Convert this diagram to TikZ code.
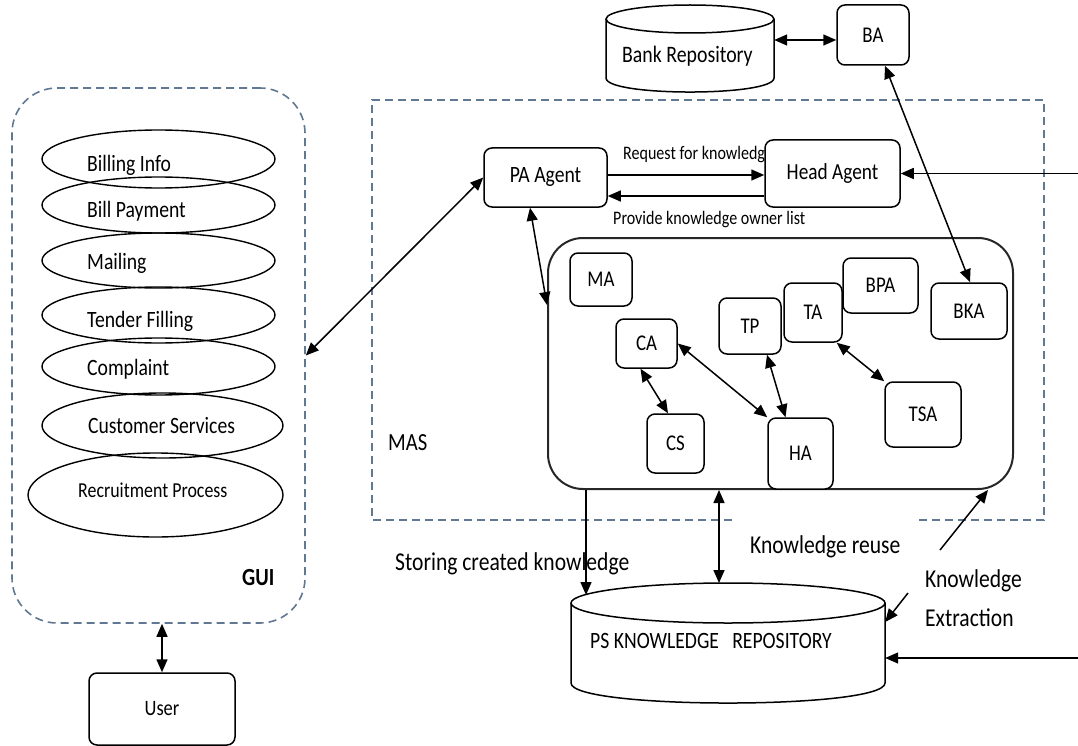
\documentclass[tikz,border=0pt]{standalone}
\usepackage{fontspec}
\setmainfont{Carlito}[FakeStretch=0.84]
\usetikzlibrary{arrows.meta,shapes.geometric}
\newcommand\fsz[1]{\fontsize{#1}{#1}\selectfont}
\definecolor{dashblue}{RGB}{96,120,146}

\begin{document}
\begin{tikzpicture}[x=1pt,y=-1pt,
  box/.style={draw, line width=1.5pt, rounded corners=8pt, fill=white, inner sep=0pt, font=\fsz{22.5}},
  usecase/.style={draw, ellipse, line width=1.4pt, inner sep=0pt},
  lbl/.style={anchor=base west, inner sep=0pt},
  cyl/.style={line width=1.5pt},
  arr/.style={-{Triangle[length=13pt,width=11pt]}, line width=1.5pt},
  dbl/.style={{Triangle[length=13pt,width=11pt]}-{Triangle[length=13pt,width=11pt]}, line width=1.5pt},
  region/.style={draw=dashblue, line width=1.6pt, dash pattern=on 8pt off 5pt},
]
\useasboundingbox (0,0) rectangle (1078,746);

% ---------- GUI side ----------
\node[region, rounded corners=45pt, minimum width=293pt, minimum height=535pt] (gui) at (158.5,355.5) {};

\node[usecase, minimum width=233pt, minimum height=58pt] (e1) at (158.5,159) {};
\node[usecase, minimum width=233pt, minimum height=56pt] (e2) at (158.5,205) {};
\node[usecase, minimum width=233pt, minimum height=55pt] (e3) at (158.5,260.5) {};
\node[usecase, minimum width=233pt, minimum height=56pt] (e4) at (158.5,315) {};
\node[usecase, minimum width=233pt, minimum height=57pt] (e5) at (158.5,366.5) {};
\node[usecase, minimum width=241pt, minimum height=65pt] (e6) at (162.5,425.5) {};
\node[usecase, minimum width=255pt, minimum height=84pt] (e7) at (155.5,495) {};

\node[lbl, font=\fsz{23.4}] (t1) at (87,171.7) {Billing Info};
\node[lbl, font=\fsz{23.4}] (t2) at (87,217) {Bill Payment};
\node[lbl, font=\fsz{23.4}] (t3) at (87,269) {Mailing};
\node[lbl, font=\fsz{23.4}] (t4) at (87,327) {Tender Filling};
\node[lbl, font=\fsz{23.4}] (t5) at (87,375) {Complaint};
\node[lbl, font=\fsz{23.4}] (t6) at (88,433) {Customer Services};
\node[lbl, font=\fsz{21.3}] (t7) at (78,497) {Recruitment Process};
\node[lbl, font=\fsz{24.6}\bfseries] (guilabel) at (242,585) {GUI};

\node[box, minimum width=146pt, minimum height=72pt, font=\fsz{22}] (user) at (162,709) {User};

% ---------- bank side ----------
\node[minimum width=168pt, minimum height=87pt, inner sep=0pt] (bank) at (690,48.5) {};
\draw[cyl] (690,19) ellipse [x radius=84pt, y radius=14pt];
\draw[cyl] (606,19) -- (606,78) .. controls (606,96.7) and (774,96.7) .. (774,78) -- (774,19);
\node[lbl, font=\fsz{23.6}] (banklabel) at (622,63) {Bank Repository};
\node[box, minimum width=72pt, minimum height=60pt] (ba) at (873,35) {BA};

% ---------- multi-agent system ----------
\draw[region] (732,520) -- (372,520) -- (372,100) -- (1044,100) -- (1044,520) -- (917,520);
\node[lbl, font=\fsz{24.6}] (mas) at (388,450) {MAS};

\node[draw=black!85, line width=2pt, rounded corners=35pt, minimum width=465pt, minimum height=251pt] (agents) at (780.5,363.5) {};

\node[box, minimum width=123pt, minimum height=59pt, font=\fsz{23.4}] (pa) at (545.5,177.5) {PA Agent};
\node[lbl, font=\fsz{19.1}] (req) at (623,160) {Request for knowledge};
\node[lbl, font=\fsz{19.1}] (prov) at (613,224) {Provide knowledge owner list};
\node[box, minimum width=135pt, minimum height=67pt, font=\fsz{23}] (head) at (832.5,173.5) {Head Agent};

\node[box, minimum width=62pt, minimum height=53pt] (ma) at (601,279.5) {MA};
\node[box, minimum width=61pt, minimum height=49pt] (ca) at (646.5,343.5) {CA};
\node[box, minimum width=62pt, minimum height=56pt] (tp) at (750,326) {TP};
\node[box, minimum width=58pt, minimum height=59pt] (ta) at (813,312.5) {TA};
\node[box, minimum width=75pt, minimum height=55pt] (bpa) at (880.5,285.5) {BPA};
\node[box, minimum width=76pt, minimum height=56pt] (bka) at (969,311) {BKA};
\node[box, minimum width=76pt, minimum height=65pt] (tsa) at (923,414.5) {TSA};
\node[box, minimum width=57pt, minimum height=59pt] (cs) at (675.5,443.5) {CS};
\node[box, minimum width=65pt, minimum height=71pt] (ha) at (800.5,453.5) {HA};

% ---------- knowledge repository ----------
\node[minimum width=314pt, minimum height=120pt, inner sep=0pt] (ps) at (728,643) {};
\draw[cyl] (728,603) ellipse [x radius=157pt, y radius=20pt];
\draw[cyl] (571,603) -- (571,683) .. controls (571,709.7) and (885,709.7) .. (885,683) -- (885,603);
\node[lbl, font=\fsz{23.4}] (pslabel) at (590,648) {PS KNOWLEDGE\ \ \ REPOSITORY};

\node[lbl, font=\fsz{25.7}] (storelabel) at (395,570) {Storing created knowledge};
\node[lbl, font=\fsz{25.7}] (reuselabel) at (750,553) {Knowledge reuse};
\node[lbl, align=left, font=\fontsize{25.7}{39}\selectfont] (extlabel) at (925,626) {Knowledge\\Extraction};

% ---------- connectors ----------
\coordinate (headin) at (1078,173.5);
\coordinate (store) at (586,595);
\coordinate (reuse) at (719,583);
\coordinate (ext1) at (940,550);
\coordinate (ext2) at (908,593);
\coordinate (psin) at (1078,658);

\draw[dbl] ([yshift=-5pt]ba.west -| bank.east) -- ([yshift=-5pt]ba.west);
\draw[dbl] ([xshift=12pt]ba.south) -- ([xshift=1pt]bka.north);
\draw[arr] ([yshift=2.5pt]pa.east) -- ([yshift=2.5pt]pa.east -| head.west);
\draw[arr] ([yshift=-18.5pt]pa.east -| head.west) -- ([yshift=-18.5pt]pa.east);
\draw[arr] (headin) -- (head.east);
\draw[dbl] (gui.east) -- (pa.west);
\draw[dbl] ([xshift=-15.5pt]pa.south) -- ([yshift=58.5pt]agents.west);
\draw[dbl] (gui.south -| user.north) -- (user.north);

\draw[dbl] ([xshift=-6pt]ca.south) -- ([xshift=-7.5pt]cs.north);
\draw[dbl] (ca.east) -- (ha.north west);
\draw[dbl] ([xshift=17pt]tp.south) -- ([xshift=-15pt]ha.north);
\draw[dbl] ([xshift=-6pt]ta.south east) -- (tsa.north west);

\draw[arr] (agents.south -| store) -- (store);
\draw[dbl] (agents.south -| reuse) -- (reuse);
\draw[arr] (ext1) -- ([xshift=-26pt]agents.south east);
\draw[arr] (ext2) -- ([yshift=21pt]ps.east);
\draw[arr] (psin) -- (psin -| ps.east);
\end{tikzpicture}
\end{document}
